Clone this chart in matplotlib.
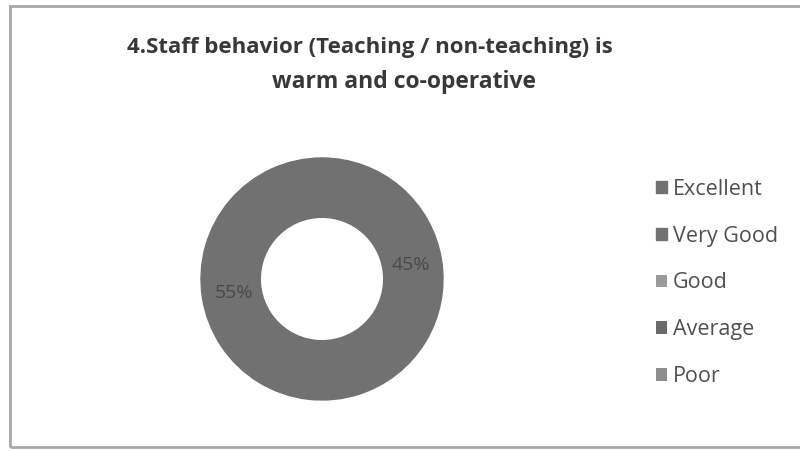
import matplotlib
matplotlib.use("Agg")
import matplotlib.pyplot as plt
from matplotlib.patches import Rectangle
import numpy as np

title_lines = ["4.Staff behavior (Teaching / non-teaching) is", "warm and co-operative"]
categories = ["Excellent", "Very Good", "Good", "Average", "Poor"]
values = [45, 55, 0, 0, 0]
wedge_colors = ["#717171", "#717171", "#9a9a9a", "#6a6a6a", "#8e8e8e"]

plt.rcParams['font.family'] = ['Open Sans', 'DejaVu Sans']

fig = plt.figure(figsize=(8, 4.51), dpi=100)
fig.patch.set_facecolor("white")

# outer frame
fig.add_artist(Rectangle((10/800, 4/451), 800/800, 441/451, transform=fig.transFigure,
                         fill=False, edgecolor="#a8a8a8", linewidth=2.0))

fig.text(370/800, 1 - 47/451, title_lines[0], ha="center", va="center", fontsize=16,
         fontweight="bold", color="#383838")
fig.text(404/800, 1 - 82/451, title_lines[1], ha="center", va="center", fontsize=16.5,
         fontweight="bold", color="#383838")

cx, cy, r = 322, 279, 121
ax = fig.add_axes([(cx - r)/800, (451 - cy - r)/451, 2*r/800, 2*r/451])
wedges, _ = ax.pie(values, colors=wedge_colors, startangle=90, counterclock=False,
                   radius=1.0, wedgeprops=dict(width=0.49, linewidth=1.0))
for w, c, v in zip(wedges, wedge_colors, values):
    w.set_edgecolor(c)
    if v == 0:
        w.set_linewidth(0)
ax.set_xlim(-1, 1)
ax.set_ylim(-1, 1)
ax.set_aspect("equal")
ax.axis("off")

total = sum(values)
start = 90.0
for v in values:
    if v > 0:
        ang = start - 360 * v / total / 2
        rr = 0.74
        ax.text(rr*np.cos(np.radians(ang)), rr*np.sin(np.radians(ang)), f"{v}%",
                ha="center", va="center", fontsize=14, color="#4a4a4a")
    start -= 360 * v / total

leg = fig.legend(wedges, categories, loc="upper left", bbox_to_anchor=(645/800, 1 - 168/451),
                 frameon=False, fontsize=15.5, handlelength=0.5, handleheight=0.5,
                 labelspacing=1.2, handletextpad=0.3, borderpad=0.0, labelcolor="#505050")

fig.savefig("out.png", dpi=100, facecolor="white")
